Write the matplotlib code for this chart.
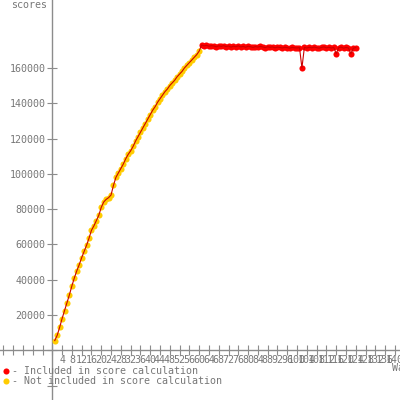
import matplotlib
matplotlib.use("Agg")
import matplotlib.pyplot as plt
from matplotlib.lines import Line2D

# Waves not counted toward the score (ramp-up phase)
warmup_waves = list(range(1, 61))
warmup_scores = [
    5500, 8500, 13000, 18000, 22500, 27000, 31500, 36500, 41000, 45000,
    48500, 52500, 56000, 59500, 63500, 68000, 70500, 73500, 76500, 81000,
    84000, 85500, 86500, 88000, 93500, 98000, 100500, 103000, 105500, 108500,
    111000, 113000, 115500, 118500, 121000, 123500, 126000, 128500, 131000, 133500,
    136000, 138000, 140500, 142500, 144500, 146500, 148000, 150000, 151500, 153000,
    155000, 156500, 158000, 160000, 161500, 163000, 164500, 166000, 167500, 169500,
]

# Waves counted toward the score (steady phase)
scored_waves = list(range(61, 125))
scored_scores = [
    173000, 172500, 172800, 172300, 172600, 172400, 172000, 172500, 172200, 172600,
    172100, 172400, 171800, 172300, 172000, 172500, 171900, 172200, 171700, 172300,
    172000, 171600, 172100, 171800, 172200, 171900, 171500, 172000, 171700, 171900,
    171400, 171800, 171600, 171300, 171700, 171500, 171200, 171600, 171400, 171300,
    171500, 160000, 171600, 171300, 171700, 171400, 171800, 171500, 171200, 171600,
    171900, 171400, 171700, 171300, 171600, 168000, 171500, 171800, 171200, 171600,
    171300, 168000, 171200, 171500,
]

x_ticks = list(range(-20, 144, 4))
y_ticks = list(range(-20000, 160001, 20000))

AXIS_GRAY = "#8c8c8c"
TEXT_GRAY = "#777777"
RED = "#ff0000"
LINE_RED = "#cc0000"
YELLOW = "#ffcc00"
FONT = "DejaVu Sans Mono"
FS = 7.2

fig = plt.figure(figsize=(4, 4), dpi=100)
ax = fig.add_axes([0, 0, 1, 1])
ax.set_xlim(-21.37, 142.07)
ax.set_ylim(-28160, 198480)

for side in ("top", "right"):
    ax.spines[side].set_visible(False)
for side in ("left", "bottom"):
    ax.spines[side].set_position(("data", 0))
    ax.spines[side].set_color(AXIS_GRAY)
    ax.spines[side].set_linewidth(1)

ax.set_xticks(x_ticks)
ax.set_xticklabels([str(t) if t > 0 else "" for t in x_ticks])
ax.set_yticks(y_ticks)
ax.set_yticklabels([str(t) if t > 0 else "" for t in y_ticks])
ax.tick_params(axis="both", direction="inout", length=6.5, width=0.8,
               color=AXIS_GRAY, labelcolor=TEXT_GRAY, labelsize=FS)
ax.tick_params(axis="x", pad=0)
ax.tick_params(axis="y", pad=1.5)
for lbl in ax.get_xticklabels() + ax.get_yticklabels():
    lbl.set_fontfamily(FONT)

all_waves = warmup_waves + scored_waves
all_scores = warmup_scores + scored_scores

ax.plot(warmup_waves, warmup_scores, linestyle="none", marker="o",
        markersize=4.4, color=YELLOW, markeredgewidth=0, zorder=3, clip_on=False)
ax.plot(scored_waves, scored_scores, linestyle="none", marker="o",
        markersize=4.4, color=RED, markeredgewidth=0, zorder=3, clip_on=False)
ax.plot(all_waves, all_scores, color=LINE_RED, linewidth=0.8, zorder=4)

fig.text(47 / 400, 1 - 5 / 400, "scores", ha="right", va="center",
         fontsize=FS, family=FONT, color=TEXT_GRAY)
fig.text(392 / 400, 1 - 368 / 400, "Wave", ha="left", va="center",
         fontsize=FS, family=FONT, color=TEXT_GRAY)

# Legend
for y_px, col, text in ((371, RED, "- Included in score calculation"),
                        (381, YELLOW, "- Not included in score calculation")):
    fig.add_artist(Line2D([6 / 400], [1 - y_px / 400], marker="o", markersize=4.4,
                          color=col, markeredgewidth=0, linestyle="none",
                          transform=fig.transFigure))
    fig.text(12 / 400, 1 - y_px / 400, text, ha="left", va="center",
             fontsize=FS, family=FONT, color=TEXT_GRAY)

fig.savefig("out.png", dpi=100)
